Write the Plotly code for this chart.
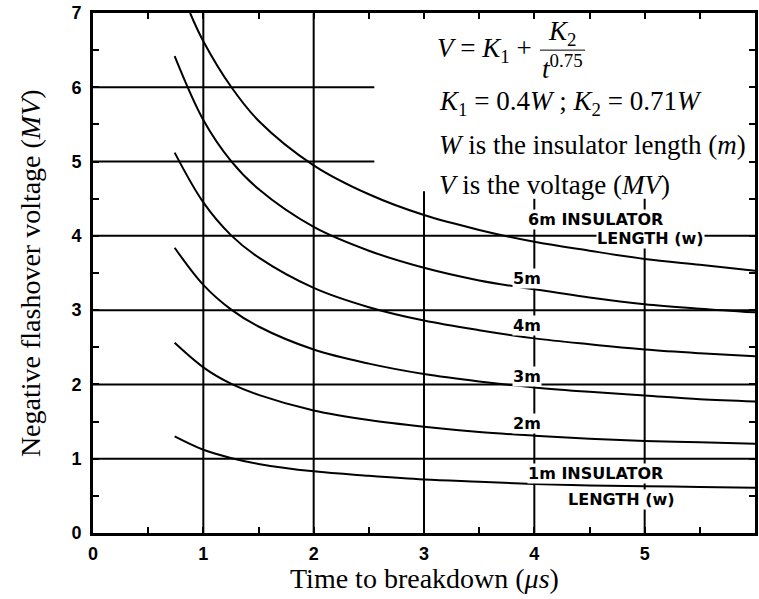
import plotly.graph_objects as go

# Time to breakdown (us) sample points
time_us = [0.74, 1.0, 1.25, 1.5, 2.0, 2.5, 3.0, 3.5, 4.0, 4.5, 5.0, 5.5, 6.0]
time_us_6m = [0.88, 1.0, 1.25, 1.5, 2.0, 2.5, 3.0, 3.5, 4.0, 4.5, 5.0, 5.5, 6.0]

# Negative flashover voltage (MV) for each insulator length
v_1m = [1.30, 1.12, 1.01, 0.93, 0.83, 0.77, 0.72, 0.69, 0.66, 0.64, 0.63, 0.62, 0.61]
v_2m = [2.56, 2.23, 2.01, 1.86, 1.65, 1.52, 1.43, 1.36, 1.31, 1.27, 1.24, 1.22, 1.20]
v_3m = [3.84, 3.34, 3.01, 2.78, 2.47, 2.28, 2.14, 2.04, 1.96, 1.90, 1.85, 1.80, 1.77]
v_4m = [5.12, 4.45, 4.01, 3.71, 3.30, 3.04, 2.86, 2.73, 2.62, 2.54, 2.47, 2.42, 2.38]
v_5m = [6.42, 5.56, 5.01, 4.63, 4.12, 3.80, 3.57, 3.40, 3.28, 3.17, 3.08, 3.02, 2.97]
v_6m = [7.00, 6.62, 6.01, 5.55, 4.95, 4.56, 4.28, 4.08, 3.92, 3.80, 3.69, 3.61, 3.53]

series = [v_1m, v_2m, v_3m, v_4m, v_5m, v_6m]
series_x = [time_us] * 5 + [time_us_6m]

x_ticks = [0, 1, 2, 3, 4, 5, 6]
y_ticks = [0, 1, 2, 3, 4, 5, 6, 7]

fig = go.Figure()
for xs, ys in zip(series_x, series):
    fig.add_trace(go.Scatter(x=xs, y=ys, mode="lines",
                             line=dict(color="black", width=2, shape="spline", smoothing=1.0),
                             showlegend=False, hoverinfo="skip"))

# partial grid lines as in the original figure
grid_v = [(1, 0, 7), (2, 0, 7), (3, 0, 4.6), (4, 0, 4.5), (5, 0, 4.5)]
grid_h = [(1, 0, 6), (2, 0, 6), (3, 0, 6), (4, 0, 6), (5, 0, 2.55), (6, 0, 2.55)]
shapes = []
for gx, y0, y1 in grid_v:
    shapes.append(dict(type="line", xref="x", yref="y", x0=gx, x1=gx, y0=y0, y1=y1,
                       line=dict(color="black", width=2), layer="below"))
for gy, x0, x1 in grid_h:
    shapes.append(dict(type="line", xref="x", yref="y", x0=x0, x1=x1, y0=gy, y1=gy,
                       line=dict(color="black", width=2), layer="below"))
# fraction bar of the formula
shapes.append(dict(type="line", xref="x", yref="y", x0=4.05, x1=4.46, y0=6.5, y1=6.5,
                   line=dict(color="black", width=1)))

serif = "Liberation Serif"
lab_font = dict(family="DejaVu Sans", size=16, color="black")
annotations = [
    dict(x=3.1, y=6.5, text="<i>V</i> = <i>K</i><sub>1</sub> + ", xanchor="left"),
    dict(x=4.255, y=6.73, text="<i>K</i><sub>2</sub>", xanchor="center"),
    dict(x=4.255, y=6.27, text="<i>t</i><sup>0.75</sup>", xanchor="center"),
    dict(x=3.12, y=5.79, text="<i>K</i><sub>1</sub> = 0.4<i>W</i> ; <i>K</i><sub>2</sub> = 0.71<i>W</i>", xanchor="left"),
    dict(x=3.12, y=5.22, text="<i>W</i> is the insulator length (<i>m</i>)", xanchor="left"),
    dict(x=3.12, y=4.68, text="<i>V</i> is the voltage (<i>MV</i>)", xanchor="left"),
]
for a in annotations:
    a.update(xref="x", yref="y", showarrow=False, yanchor="middle",
             font=dict(family=serif, size=27, color="black"))

labels = [
    (4.55, 4.22, "6m INSULATOR"), (5.05, 3.96, "LENGTH (w)"),
    (3.93, 3.43, "5m"), (3.93, 2.79, "4m"), (3.93, 2.11, "3m"), (3.93, 1.48, "2m"),
    (4.55, 0.80, "1m INSULATOR"), (4.79, 0.45, "LENGTH (w)"),
]
for lx, ly, lt in labels:
    annotations.append(dict(x=lx, y=ly, text="<b>" + lt + "</b>", xref="x", yref="y",
                            showarrow=False, font=lab_font, bgcolor="white", borderpad=0,
                            xanchor="center", yanchor="middle"))

# axis titles placed in paper coordinates
annotations.append(dict(x=0.5, y=-0.087, xref="paper", yref="paper", showarrow=False,
                        text="Time to breakdown (<i>μs</i>)", xanchor="center", yanchor="middle",
                        font=dict(family=serif, size=28, color="black")))
annotations.append(dict(x=-0.095, y=0.5, xref="paper", yref="paper", showarrow=False,
                        text="Negative flashover voltage (<i>MV</i>)", textangle=-90,
                        xanchor="center", yanchor="middle",
                        font=dict(family=serif, size=28, color="black")))

axis_common = dict(showgrid=False, zeroline=False, showline=True, linecolor="black",
                   linewidth=3, mirror="allticks", ticks="inside", ticklen=6,
                   tickwidth=2, tickcolor="black", automargin=False,
                   tickfont=dict(family="Liberation Sans", size=18, color="black"),
                   minor=dict(ticks="inside", dtick=0.5, ticklen=6, tickwidth=2, tickcolor="black"))

fig.update_layout(
    width=759, height=599,
    margin=dict(l=93, r=4, t=13, b=66),
    plot_bgcolor="white", paper_bgcolor="white",
    shapes=shapes, annotations=annotations,
    xaxis=dict(range=[0, 6], tickvals=x_ticks, ticktext=["<b>%d</b>" % v for v in x_ticks],
               ticklabelstandoff=2, **axis_common),
    yaxis=dict(range=[0, 7], tickvals=y_ticks, ticktext=["<b>%d</b>" % v for v in y_ticks],
               ticklabelstandoff=5, **axis_common),
)

fig.write_html("out.html", config={"displayModeBar": False},
               post_script="document.body.style.margin='0';")
